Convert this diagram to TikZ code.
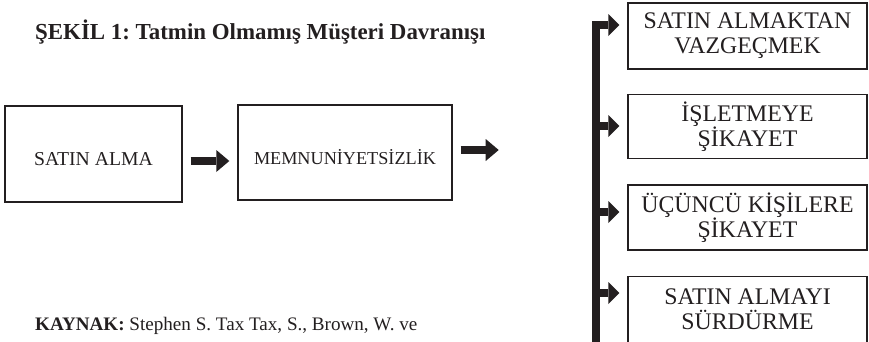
\documentclass[tikz,border=0pt]{standalone}
\usepackage{fontspec}
\setmainfont{Liberation Serif}
\usetikzlibrary{arrows.meta,positioning}
\definecolor{ink}{HTML}{231F20}
\frenchspacing

\begin{document}
\begin{tikzpicture}[x=1pt,y=-1pt,node distance=25pt]
                \tikzstyle{box}=[draw=ink, line width=1.4pt, inner sep=0pt, align=center, text=ink]
                \tikzstyle{mainbox}=[box, text height=23pt, text depth=0pt]
                \tikzstyle{sidebox}=[box, minimum width=239pt, minimum height=65pt, font=\fontsize{23.8}{25}\selectfont]
                \tikzstyle{bigarrow}=[draw=ink, line width=8pt, -{Triangle[length=13pt,width=22pt,line width=0pt]}]
                \tikzstyle{busarrow}=[draw=ink, line width=8pt, -{Triangle[length=11pt,width=22pt,line width=0pt]}, shorten >=8pt]
                \tikzstyle{caption}=[anchor=base west, inner sep=0pt, text=ink]

                \useasboundingbox (0,0) rectangle (869,341);

                \node[caption, font=\bfseries\fontsize{22.9}{26}\selectfont] (title) at (35,39) {ŞEKİL 1: Tatmin Olmamış Müşteri Davranışı};
                \node[caption, font=\fontsize{19.1}{22}\selectfont] (source) at (35,330) {\textbf{KAYNAK:} Stephen S. Tax Tax, S., Brown, W. ve};

                \node[mainbox, minimum width=177pt, minimum height=96pt, font=\fontsize{19.7}{22}\selectfont] (buy) at (93.5,154) {SATIN ALMA};
                \node[mainbox, minimum width=214pt, minimum height=95pt, font=\fontsize{18.2}{22}\selectfont] (dissat) at (345,152.5) {MEMNUNİYETSİZLİK};

                \node[sidebox, minimum height=66pt] (kind1) at (747.5,36) {SATIN ALMAKTAN\\VAZGEÇMEK};
                \node[sidebox, below=24pt of kind1, minimum height=64pt] (kind2) {İŞLETMEYE\\ŞİKAYET};
                \node[sidebox, below=of kind2] (kind3) {ÜÇÜNCÜ KİŞİLERE\\ŞİKAYET};
                \node[sidebox, below=of kind3, minimum height=67pt] (kind4) {SATIN ALMAYI\\SÜRDÜRME};

                \draw[bigarrow] ([xshift=8pt,yshift=-7pt]buy.east) -- ([xshift=-8pt,yshift=-7pt]buy.east -| dissat.west);
                \draw[bigarrow] ([xshift=8pt,yshift=2.5pt]dissat.east) -- +(38,0);

                % bus with the four branches
                \coordinate (bus) at (596,345);
                \coordinate (b1) at (596,25);
                \coordinate (b2) at (596,126);
                \coordinate (b3) at (596,212);
                \coordinate (b4) at (596,293);
                \draw[busarrow] (bus) -- (b1) -- (b1 -| kind1.west);
                \foreach \i in {2,3,4}
                    \draw[busarrow] (b\i) -- (b\i -| kind\i.west);

\end{tikzpicture}
\end{document}
